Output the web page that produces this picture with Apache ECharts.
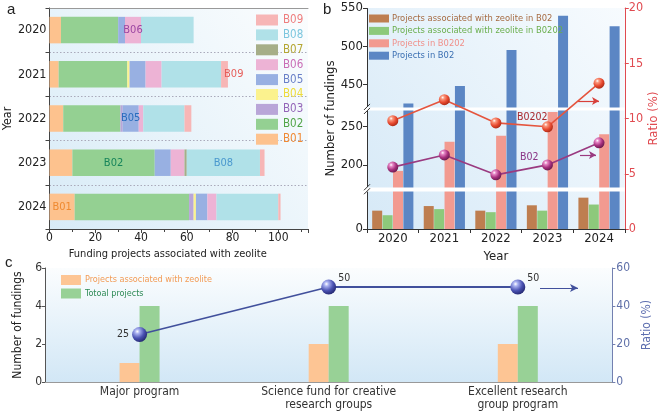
<!DOCTYPE html>
<html>
<head>
<meta charset="utf-8">
<script src="https://cdn.jsdelivr.net/npm/echarts@6.0.0/dist/echarts.min.js"></script>
<style>
html, body { margin: 0; padding: 0; background: #fff; }
#main { width: 661px; height: 420px; }
</style>
</head>
<body>
<div id="main"></div>
<script>
const FONT = '"Liberation Sans Narrow", "Arial Narrow", "DejaVu Sans Condensed", sans-serif'

// panel a: zeolite projects per code and year
const yearsA = ['2020', '2021', '2022', '2023', '2024']
const codesA = ['B01', 'B02', 'B03', 'B04', 'B05', 'B06', 'B07', 'B08', 'B09']
const b01 = [5, 4, 6, 10, 11]
const b02 = [25, 30, 25, 36, 50]
const b03 = [0, 0, 1, 0, 2]
const b04 = [0, 1, 0, 0, 1]
const b05 = [3, 7, 7, 7, 5]
const b06 = [7, 7, 2, 6, 4]
const b07 = [0, 0, 0, 1, 0]
const b08 = [23, 26, 18, 32, 27]
const b09 = [0, 3, 3, 2, 1]
const ticksA = [0, 20, 40, 60, 80, 100]

// panel b: fundings per year
const yearsB = ['2020', '2021', '2022', '2023', '2024']
const zeoB02 = [24, 30, 24, 31, 41]
const zeoB0202 = [18, 26, 22, 24, 32]
const totB0202 = [192, 230, 238, 269, 240]
const totB02 = [425, 448, 495, 540, 526]
const ratioB0202 = [9.8, 11.7, 9.6, 9.25, 13.2]
const ratioB02 = [5.6, 6.7, 4.9, 5.8, 7.8]
const ticksB = [0, 200, 250, 450, 500, 550]
const breaksB = [[50, 170], [271, 420]]

// panel c: programs
const programsC = ['Major program', 'Science fund for creative\nresearch groups', 'Excellent research\ngroup program']
const zeoC = [1, 2, 2]
const totC = [4, 4, 4]
const ratioC = [25, 50, 50]

const fundsA = [b01, b02, b03, b04, b05, b06, b07, b08, b09]
const colorsA = ['#FDC28E', '#94D092', '#B9A6D8', '#FBF28E', '#98B0E2', '#EDB3D5', '#A6AE88', '#B0E1E8', '#F7B6B6']
const textColorsA = ['#F08A34', '#52A548', '#9466B8', '#EEDC3A', '#6A80C8', '#C96DB6', '#B4A632', '#7CC6DE', '#EE7E7E']
// inline labels in panel a: code, year index, colour, placement
const inlineA = [
  ['B06', 0, '#9C46A2', 'inside'],
  ['B09', 1, '#E65E5A', 'insideLeft'],
  ['B05', 2, '#2B6DBE', 'inside'],
  ['B02', 3, '#17845A', 'inside'],
  ['B08', 3, '#4A98CE', 'inside'],
  ['B01', 4, '#EF8A30', 'insideLeft']
]

function sphere(light, mid, dark) {
  return new echarts.graphic.RadialGradient(0.35, 0.3, 0.75, [
    { offset: 0, color: '#ffffff' },
    { offset: 0.2, color: light },
    { offset: 0.6, color: mid },
    { offset: 1, color: dark }
  ])
}
function bg(x, y, x2, y2, c0, c1) {
  return { type: 'linear', x: x, y: y, x2: x2, y2: y2, colorStops: [{ offset: 0, color: c0 }, { offset: 1, color: c1 }] }
}

const seriesA = codesA.map((code, i) => ({
  name: code,
  type: 'bar',
  stack: 'a',
  xAxisIndex: 0,
  yAxisIndex: 0,
  barWidth: '60%',
  itemStyle: { color: colorsA[i] },
  data: fundsA[i].map((v, j) => {
    const hit = inlineA.find(l => l[0] === code && l[1] === j)
    if (!hit) return v
    return {
      value: v,
      label: { show: true, formatter: code, color: hit[2], position: hit[3], distance: 3, fontFamily: FONT, fontSize: 11 }
    }
  })
}))

const texts = [
  { type: 'text', left: 7, top: 2, style: { text: 'a', font: '15px "Liberation Sans", sans-serif', fill: '#222' } },
  { type: 'text', left: 323, top: 2, style: { text: 'b', font: '15px "Liberation Sans", sans-serif', fill: '#222' } },
  { type: 'text', left: 5, top: 255, style: { text: 'c', font: '15px "Liberation Sans", sans-serif', fill: '#222' } },
  { type: 'text', left: 517, top: 112, z: 20, style: { text: 'B0202', font: '10.5px ' + FONT, fill: '#A8282E' } },
  { type: 'text', left: 520, top: 152, z: 20, style: { text: 'B02', font: '10.5px ' + FONT, fill: '#8A3585' } }
]

const chart = echarts.init(document.getElementById('main'))
chart.setOption({
  animation: false,
  textStyle: { fontFamily: FONT },
  grid: [
    { left: 45, right: 353, top: 8, bottom: 191, show: true, borderWidth: 0, backgroundColor: bg(1, 0, 0, 1, '#fbfdfe', '#d8ebf7') },
    { left: 367, right: 36, top: 8, bottom: 191, show: true, borderWidth: 0, backgroundColor: bg(1, 0, 0, 1, '#f7fbfe', '#d6e9f7') },
    { left: 45, right: 37, top: 268, bottom: 38, show: true, borderWidth: 0, backgroundColor: bg(0, 0, 0, 1, '#fbfdfe', '#d2e7f6') }
  ],
  legend: [
    {
      left: 256, top: 14, padding: 0, orient: 'vertical', itemWidth: 22, itemHeight: 11, itemGap: 2.9, icon: 'rect',
      textStyle: { fontFamily: FONT, fontSize: 11.5 },
      data: codesA.slice().reverse().map(c => ({ name: c, textStyle: { color: textColorsA[codesA.indexOf(c)] } }))
    },
    {
      left: 369, top: 14, padding: 0, orient: 'vertical', itemWidth: 20, itemHeight: 8, itemGap: 3.4, icon: 'rect',
      textStyle: { fontFamily: FONT, fontSize: 9.3, padding: [0, 0, 0, -2] },
      data: [
        { name: 'Projects associated with zeolite in B02', textStyle: { color: '#A66B42' } },
        { name: 'Projects associated with zeolite in B0202', textStyle: { color: '#6AAE4C' } },
        { name: 'Projects in B0202', textStyle: { color: '#F0908A' } },
        { name: 'Projects in B02', textStyle: { color: '#3A6FB2' } }
      ]
    },
    {
      left: 61, top: 275, padding: 0, orient: 'vertical', itemWidth: 20, itemHeight: 10, itemGap: 3.5, icon: 'rect',
      textStyle: { fontFamily: FONT, fontSize: 9, padding: [0, 0, 0, -1] },
      data: [
        { name: 'Projects associated with zeolite', textStyle: { color: '#F29B55' } },
        { name: 'Totoal projects', textStyle: { color: '#2E8A56' } }
      ]
    }
  ],
  xAxis: [
    {
      gridIndex: 0, type: 'value', min: 0, max: 113, interval: 20,
      name: 'Funding projects associated with zeolite', nameLocation: 'middle', nameGap: 16,
      nameTextStyle: { fontFamily: FONT, fontSize: 11, color: '#222', padding: [0, 22, 0, 0] },
      axisLine: { show: true, lineStyle: { color: '#444' } },
      axisTick: { show: true, length: 4, lineStyle: { color: '#444' } },
      minorTick: { show: true, splitNumber: 2, length: 3, lineStyle: { color: '#444' } },
      axisLabel: { color: '#222', fontSize: 12, margin: 3, showMaxLabel: false, formatter: v => ticksA.includes(Math.round(v)) ? Math.round(v) : '' },
      splitLine: { show: false }
    },
    {
      gridIndex: 0, type: 'value', position: 'top', min: 0, max: 113,
      axisLine: { show: true, lineStyle: { color: '#999' } },
      axisTick: { show: false }, axisLabel: { show: false }, splitLine: { show: false }
    },
    {
      gridIndex: 1, type: 'category', data: yearsB,
      name: 'Year', nameLocation: 'middle', nameGap: 12,
      nameTextStyle: { fontFamily: FONT, fontSize: 13, color: '#222' },
      axisLine: { lineStyle: { color: '#333' } },
      axisTick: { show: true, length: 4, lineStyle: { color: '#333' } },
      axisLabel: { color: '#222', fontSize: 13, margin: 3 }
    },
    {
      gridIndex: 2, type: 'category', data: programsC,
      axisLine: { lineStyle: { color: '#555' } },
      axisTick: { show: false },
      axisLabel: { color: '#333', fontSize: 12, margin: 4, lineHeight: 12.5 }
    },
    {
      gridIndex: 2, type: 'category', position: 'top', data: programsC,
      axisLine: { show: true, lineStyle: { color: '#999' } },
      axisTick: { show: false }, axisLabel: { show: false }
    }
  ],
  yAxis: [
    {
      gridIndex: 0, type: 'category', data: yearsA, inverse: true,
      name: 'Year', nameLocation: 'middle', nameGap: 27,
      nameTextStyle: { fontFamily: FONT, fontSize: 12.5, color: '#222' },
      axisLine: { lineStyle: { color: '#444' } },
      axisTick: { show: true, length: 4, lineStyle: { color: '#444' } },
      axisLabel: { color: '#222', fontSize: 12.5, margin: 3 },
      splitLine: { show: true, lineStyle: { color: '#aab', type: [1.5, 2], width: 1 } }
    },
    {
      gridIndex: 1, type: 'value', min: 0, max: 550, interval: 50,
      breaks: breaksB.map(b => ({ start: b[0], end: b[1], gap: 4 })),
      breakArea: {
        show: true, expandOnClick: false, zigzagAmplitude: 0, zigzagZ: 5,
        itemStyle: { color: '#ffffff', borderColor: '#ffffff', borderWidth: 0, opacity: 1 }
      },
      name: 'Number of fundings', nameLocation: 'middle', nameGap: 27,
      nameTextStyle: { fontFamily: FONT, fontSize: 13, color: '#222' },
      axisLine: { show: true, lineStyle: { color: '#333' } },
      axisTick: { show: true, length: 4, customValues: ticksB, lineStyle: { color: '#333' } },
      axisLabel: { color: '#222', fontSize: 13, margin: 4, customValues: ticksB },
      splitLine: { show: false }
    },
    {
      gridIndex: 1, type: 'value', position: 'right', min: 0, max: 20, interval: 5,
      name: 'Ratio (%)', nameLocation: 'middle', nameGap: 18,
      nameTextStyle: { fontFamily: FONT, fontSize: 13, color: '#E04A50' },
      axisLine: { show: true, lineStyle: { color: '#E04A50' } },
      axisTick: { show: true, length: 4, lineStyle: { color: '#E04A50' } },
      axisLabel: { color: '#E04A50', fontSize: 12.5, margin: 4 },
      splitLine: { show: false }
    },
    {
      gridIndex: 2, type: 'value', min: 0, max: 6, interval: 2,
      name: 'Number of fundings', nameLocation: 'middle', nameGap: 16,
      nameTextStyle: { fontFamily: FONT, fontSize: 12, color: '#222' },
      axisLine: { show: true, lineStyle: { color: '#555' } },
      axisTick: { show: true, length: 3, lineStyle: { color: '#555' } },
      axisLabel: { color: '#333', fontSize: 12, margin: 3 },
      splitLine: { show: false }
    },
    {
      gridIndex: 2, type: 'value', position: 'right', min: 0, max: 60, interval: 20,
      name: 'Ratio (%)', nameLocation: 'middle', nameGap: 18,
      nameTextStyle: { fontFamily: FONT, fontSize: 12, color: '#5E6FB0' },
      axisLine: { show: true, lineStyle: { color: '#7380B0' } },
      axisTick: { show: true, length: 3, lineStyle: { color: '#7380B0' } },
      axisLabel: { color: '#5E6FA8', fontSize: 12, margin: 4 },
      splitLine: { show: false }
    }
  ],
  series: seriesA.concat([
    { name: 'Projects associated with zeolite in B02', type: 'bar', xAxisIndex: 2, yAxisIndex: 1, barWidth: 10, barGap: '4%', itemStyle: { color: '#BE7E50' }, data: zeoB02 },
    { name: 'Projects associated with zeolite in B0202', type: 'bar', xAxisIndex: 2, yAxisIndex: 1, barWidth: 10, barGap: '4%', itemStyle: { color: '#8DC97B' }, data: zeoB0202 },
    { name: 'Projects in B0202', type: 'bar', xAxisIndex: 2, yAxisIndex: 1, barWidth: 10, barGap: '4%', itemStyle: { color: '#F29A90' }, data: totB0202 },
    { name: 'Projects in B02', type: 'bar', xAxisIndex: 2, yAxisIndex: 1, barWidth: 10, barGap: '4%', itemStyle: { color: '#5B86C4' }, data: totB02 },
    {
      name: 'Ratio B0202', type: 'line', xAxisIndex: 2, yAxisIndex: 2, z: 10, data: ratioB0202,
      symbol: 'circle', symbolSize: 11,
      lineStyle: { color: '#E5553E', width: 1.6 },
      itemStyle: { color: sphere('#fa9a80', '#e84a30', '#a82814'), borderWidth: 0 },
      markLine: {
        silent: true, symbol: ['none', 'arrow'], symbolSize: [6, 7], label: { show: false },
        lineStyle: { color: '#D8403A', width: 1.2, type: 'solid' },
        data: [[{ x: 578, y: 101 }, { x: 599, y: 101 }]]
      }
    },
    {
      name: 'Ratio B02', type: 'line', xAxisIndex: 2, yAxisIndex: 2, z: 10, data: ratioB02,
      symbol: 'circle', symbolSize: 11,
      lineStyle: { color: '#9A3A80', width: 1.6 },
      itemStyle: { color: sphere('#e88ac8', '#a8307e', '#62184a'), borderWidth: 0 },
      markLine: {
        silent: true, symbol: ['none', 'arrow'], symbolSize: [6, 7], label: { show: false },
        lineStyle: { color: '#9A3A80', width: 1.2, type: 'solid' },
        data: [[{ x: 580, y: 155 }, { x: 596, y: 155 }]]
      }
    },
    { name: 'Projects associated with zeolite', type: 'bar', xAxisIndex: 3, yAxisIndex: 3, barWidth: 20, barGap: '0%', itemStyle: { color: '#FDC594' }, data: zeoC },
    { name: 'Totoal projects', type: 'bar', xAxisIndex: 3, yAxisIndex: 3, barWidth: 20, barGap: '0%', itemStyle: { color: '#98D196' }, data: totC },
    {
      name: 'Ratio C', type: 'line', xAxisIndex: 3, yAxisIndex: 4, z: 10,
      symbol: 'circle', symbolSize: 15,
      lineStyle: { color: '#41509C', width: 1.8 },
      itemStyle: { color: sphere('#a8b0f0', '#4a52b2', '#22266e'), borderWidth: 0 },
      label: { show: true, color: '#333', fontFamily: FONT, fontSize: 10.5 },
      data: ratioC.map((v, i) => ({
        value: v,
        label: i === 0 ? { position: 'left', distance: 3 } : { position: 'right', distance: 2, offset: [0, -9] }
      })),
      markLine: {
        silent: true, symbol: ['none', 'arrow'], symbolSize: [6, 8], label: { show: false },
        lineStyle: { color: '#41509C', width: 1.2, type: 'solid' },
        data: [[{ x: 540, y: 288 }, { x: 578, y: 288 }]]
      }
    }
  ]),
  graphic: texts
})

// "//" marks where the left axis of panel b is broken
const axisX = 367
const marks = []
breaksB.forEach(b => {
  const y0 = chart.convertToPixel({ yAxisIndex: 1 }, b[0])
  const y1 = chart.convertToPixel({ yAxisIndex: 1 }, b[1])
  const yc = (y0 + y1) / 2
  marks.push({ type: 'rect', z: 30, shape: { x: axisX - 1.5, y: yc - 2, width: 3, height: 4 }, style: { fill: '#fff' } })
  marks.push({ type: 'line', z: 31, shape: { x1: axisX - 3, y1: yc + 1, x2: axisX + 3, y2: yc - 5 }, style: { stroke: '#333', lineWidth: 1 } })
  marks.push({ type: 'line', z: 31, shape: { x1: axisX - 3, y1: yc + 5, x2: axisX + 3, y2: yc - 1 }, style: { stroke: '#333', lineWidth: 1 } })
})
chart.setOption({ graphic: texts.concat(marks) })
</script>
</body>
</html>
